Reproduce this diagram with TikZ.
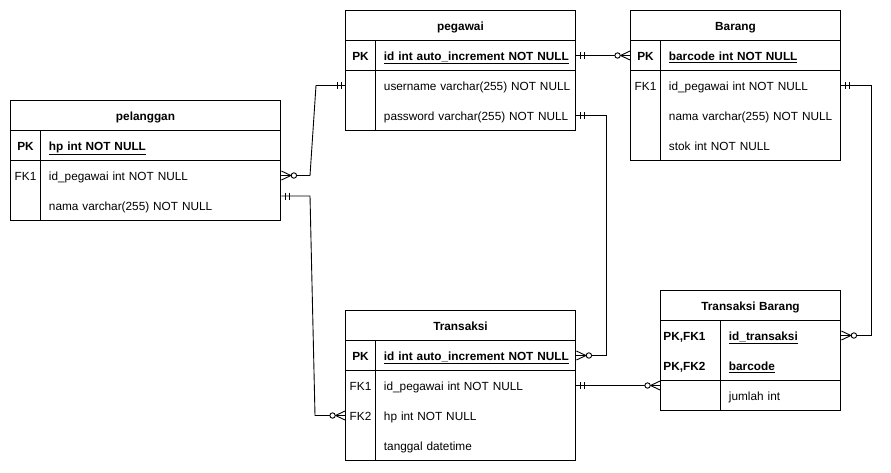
\documentclass[tikz,border=0pt]{standalone}
\usepackage{fontspec}
\setmainfont{Liberation Sans}
\newcommand{\erfont}{\fontsize{11.8}{14}\selectfont}

\tikzset{
  tblhead/.style={draw, minimum height=30, inner sep=0, text height=11, text depth=0.5, font=\erfont\bfseries},
  keycell/.style={minimum height=30, inner sep=0, text height=11, text depth=0.5},
  fieldcell/.style={minimum height=30, inner sep=0, text height=11, text depth=0.5,
                    text width=#1, align=left, anchor=west, execute at begin node=\hspace*{8pt}},
  boldtxt/.style={font=\erfont\bfseries},
  % ER cardinality marks, drawn pointing away from the table
  mandone/.pic={\draw (4,-3.5) -- (4,3.5) (8,-3.5) -- (8,3.5);},
  zeromany/.pic={\draw (0,-4.5) -- (9.5,0) -- (0,4.5) (0,0) -- (9.5,0);
                 \draw[fill=white] (12.5,0) circle (2.7);},
}

\begin{document}
\begin{tikzpicture}[x=1pt, y=-1pt, line width=0.9pt, font=\erfont]
                \useasboundingbox (0,0) rectangle (891,472);

                % pegawai
                \node[tblhead, minimum width=230] (peg) at (460.5,25.5) {pegawai};
                \node[keycell, minimum width=30, boldtxt] (peg-pk) at (360.5,55.5) {PK};
                \node[fieldcell=200, boldtxt] (peg-id) at (375.5,55.5) {\underline{id int auto\_increment NOT NULL}};
                \node[keycell, minimum width=30] (peg-userk) at (360.5,85.5) {};
                \node[fieldcell=200] (peg-user) at (375.5,85.5) {username varchar(255) NOT NULL};
                \node[fieldcell=200] (peg-pass) at (375.5,115.5) {password varchar(255) NOT NULL};
                \draw (345.5,40.5) rectangle (575.5,130.5);
                \draw (345.5,70.5) -- (575.5,70.5);
                \draw (375.5,40.5) -- (375.5,130.5);

                % Barang
                \node[tblhead, minimum width=210] (brg) at (735.5,25.5) {Barang};
                \node[keycell, minimum width=30, boldtxt] (brg-pk) at (645.5,55.5) {PK};
                \node[fieldcell=180, boldtxt] (brg-bc) at (660.5,55.5) {\underline{barcode int NOT NULL}};
                \node[keycell, minimum width=30] (brg-fk) at (645.5,85.5) {FK1};
                \node[fieldcell=180] (brg-idp) at (660.5,85.5) {id\_pegawai int NOT NULL};
                \node[fieldcell=180] (brg-nama) at (660.5,115.5) {nama varchar(255) NOT NULL};
                \node[fieldcell=180] (brg-stok) at (660.5,145.5) {stok int NOT NULL};
                \draw (630.5,40.5) rectangle (840.5,160.5);
                \draw (630.5,70.5) -- (840.5,70.5);
                \draw (660.5,40.5) -- (660.5,160.5);

                % pelanggan
                \node[tblhead, minimum width=270] (plg) at (145.5,115.5) {pelanggan};
                \node[keycell, minimum width=30, boldtxt] (plg-pk) at (25.5,145.5) {PK};
                \node[fieldcell=240, boldtxt] (plg-hp) at (40.5,145.5) {\underline{hp int NOT NULL}};
                \node[keycell, minimum width=30] (plg-fk) at (25.5,175.5) {FK1};
                \node[fieldcell=240] (plg-idp) at (40.5,175.5) {id\_pegawai int NOT NULL};
                \node[fieldcell=240] (plg-nama) at (40.5,205.5) {nama varchar(255) NOT NULL};
                \draw (10.5,130.5) rectangle (280.5,220.5);
                \draw (10.5,160.5) -- (280.5,160.5);
                \draw (40.5,130.5) -- (40.5,220.5);

                % Transaksi
                \node[tblhead, minimum width=230] (trx) at (460.5,325.5) {Transaksi};
                \node[keycell, minimum width=30, boldtxt] (trx-pk) at (360.5,355.5) {PK};
                \node[fieldcell=200, boldtxt] (trx-id) at (375.5,355.5) {\underline{id int auto\_increment NOT NULL}};
                \node[keycell, minimum width=30] (trx-fk1) at (360.5,385.5) {FK1};
                \node[fieldcell=200] (trx-idp) at (375.5,385.5) {id\_pegawai int NOT NULL};
                \node[keycell, minimum width=30] (trx-fk2) at (360.5,415.5) {FK2};
                \node[fieldcell=200] (trx-hp) at (375.5,415.5) {hp int NOT NULL};
                \node[fieldcell=200] (trx-tgl) at (375.5,445.5) {tanggal datetime};
                \draw (345.5,340.5) rectangle (575.5,460.5);
                \draw (345.5,370.5) -- (575.5,370.5);
                \draw (375.5,340.5) -- (375.5,460.5);

                % Transaksi Barang
                \node[tblhead, minimum width=180] (tb) at (750.5,305.5) {Transaksi Barang};
                \node[keycell, anchor=west, inner xsep=2.5, text width=55, align=left, boldtxt] (tb-pk1) at (660.5,335.5) {PK,FK1};
                \node[fieldcell=120, boldtxt] (tb-idt) at (720.5,335.5) {\underline{id\_transaksi}};
                \node[keycell, anchor=west, inner xsep=2.5, text width=55, align=left, boldtxt] (tb-pk2) at (660.5,365.5) {PK,FK2};
                \node[fieldcell=120, boldtxt] (tb-bc) at (720.5,365.5) {\underline{barcode}};
                \node[keycell, minimum width=60] (tb-jk) at (690.5,395.5) {};
                \node[fieldcell=120] (tb-jml) at (720.5,395.5) {jumlah int};
                \draw (660.5,320.5) rectangle (840.5,410.5);
                \draw (660.5,380.5) -- (840.5,380.5);
                \draw (720.5,320.5) -- (720.5,410.5);

                % Relations
                \draw (peg-id.east) -- (brg-pk.west);
                \draw (plg-idp.east) -- (310,175.5) -- (316,85.5) -- (peg-userk.west);
                \draw (peg-pass.east) -- (606,115.5) -- (606,355.5) -- (trx-id.east);
                \draw (brg-idp.east) -- (871,85.5) -- (871,335.5) -- (tb-idt.east);
                \draw ([yshift=9.5pt]plg-nama.east) -- (310,196) -- (315,415.5) -- (trx-fk2.west);
                \draw (trx-idp.east) -- ([yshift=10pt]tb-jk.west);

                % Cardinality marks
                \pic at (peg-id.east) {mandone};
                \pic[rotate=180] at (brg-pk.west) {zeromany};
                \pic at (plg-idp.east) {zeromany};
                \pic[rotate=180] at (peg-userk.west) {mandone};
                \pic at (peg-pass.east) {mandone};
                \pic at (trx-id.east) {zeromany};
                \pic at (brg-idp.east) {mandone};
                \pic at (tb-idt.east) {zeromany};
                \pic at ([yshift=9.5pt]plg-nama.east) {mandone};
                \pic[rotate=180] at (trx-fk2.west) {zeromany};
                \pic at (trx-idp.east) {mandone};
                \pic[rotate=180] at ([yshift=10pt]tb-jk.west) {zeromany};

            \end{tikzpicture}
\end{document}
